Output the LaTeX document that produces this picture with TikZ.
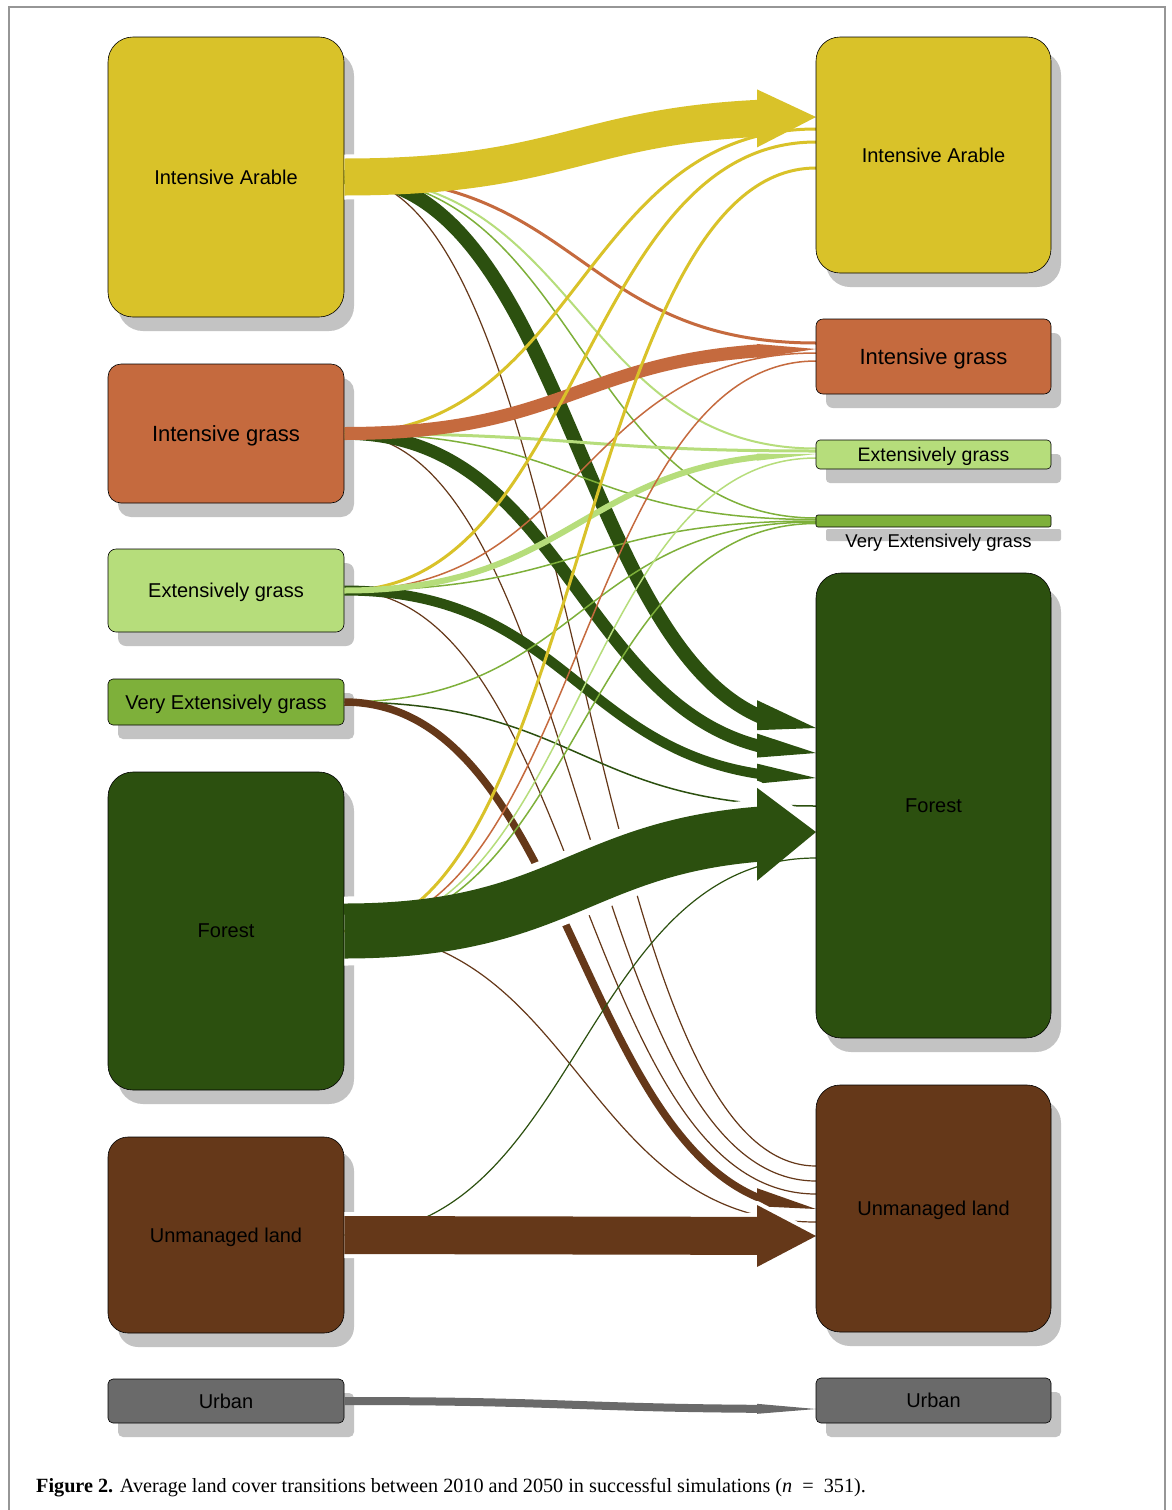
\documentclass[tikz,border=0pt]{standalone}
\usepackage{fontspec}
\setmainfont{Liberation Sans}
\newfontfamily\capfont{Liberation Serif}
\usetikzlibrary{calc,shadows}
\definecolor{cIA}{RGB}{217,194,41}
\definecolor{cIG}{RGB}{197,106,62}
\definecolor{cEG}{RGB}{182,221,123}
\definecolor{cVEG}{RGB}{126,176,58}
\definecolor{cF}{RGB}{44,80,15}
\definecolor{cUL}{RGB}{101,56,25}
\definecolor{cUR}{RGB}{106,106,106}
\definecolor{cSh}{RGB}{195,195,195}
\definecolor{cFrame}{RGB}{150,150,150}

% thin flow: colour, width, source node, target coordinate
\newcommand\flowln[4]{%
  \draw[#1, line width=#2pt] let \p1=(#3.east), \p2=(#4) in
    (\p1) .. controls ({0.5*\x1+0.5*\x2},\y1) and ({0.5*\x1+0.5*\x2},\y2) .. (\p2);}
% flow with arrow head: colour, width, source, target, half head height
\newcommand\flowar[5]{%
  \begin{scope}
    \clip (0,0) rectangle (757.5,1510);
    \flowln{#1}{#2}{#3}{#4}
  \end{scope}
  \fill[#1] let \p1=(#3.east), \p2=(#4) in
    ({\x2-59pt},{\y2-0.0233*(\y2-\y1)+#5pt}) -- (\p2) --
    ({\x2-59pt},{\y2-0.0233*(\y2-\y1)-#5pt}) -- cycle;}
% white halo: total width, source, target, half head, 2*halo
\newcommand\flowhalo[5]{%
  \begin{scope}
    \clip (0,0) rectangle (757.5,1510);
    \flowln{white}{#1}{#2}{#3}
  \end{scope}
  \filldraw[white, line width=#5pt, line join=round] let \p1=(#2.east), \p2=(#3) in
    ({\x2-59pt},{\y2-0.0233*(\y2-\y1)+#4pt}) -- (\p2) --
    ({\x2-59pt},{\y2-0.0233*(\y2-\y1)-#4pt}) -- cycle;}

\begin{document}
\begin{tikzpicture}[x=1pt,y=-1pt,
  lcbox/.style={draw=black, line width=0.6pt, inner sep=0pt, text=black, text depth=0pt,
    font=\fontsize{20}{24}\selectfont,
    drop shadow={shadow xshift=10pt, shadow yshift=-14pt, fill=cSh, opacity=1}},
  lbox/.style={lcbox, minimum width=236pt},
  rbox/.style={lcbox, minimum width=235pt}]
\useasboundingbox (0,0) rectangle (1171,1510);
\fill[white] (0,0) rectangle (1171,1510);
\draw[cFrame, line width=1.5pt] (9,1510) -- (9,7) -- (1165,7) -- (1165,1510);

% ---------- left boxes (2010) ----------
\node[lbox, fill=cIA, minimum height=280pt, rounded corners=25pt] (lIA) at (226,177) {Intensive Arable};
\node[lbox, fill=cIG, minimum height=139pt, rounded corners=13pt, font=\fontsize{22}{26}\selectfont] (lIG) at (226,433.5) {Intensive grass};
\node[lbox, fill=cEG, minimum height=83pt, rounded corners=8pt] (lEG) at (226,590.5) {Extensively grass};
\node[lbox, fill=cVEG, minimum height=46pt, rounded corners=5pt] (lVEG) at (226,702) {Very Extensively grass};
\node[lbox, fill=cF, minimum height=318pt, rounded corners=25pt] (lF) at (226,931) {Forest};
\node[lbox, fill=cUL, minimum height=196pt, rounded corners=20pt] (lUL) at (226,1235) {Unmanaged land};
\node[lbox, fill=cUR, minimum height=44pt, rounded corners=5pt] (lUR) at (226,1401) {Urban};

% ---------- arrival points (2050) ----------
\coordinate (tIA-IA) at (816,117);
\coordinate (tIG-IA) at (816,129);
\coordinate (tEG-IA) at (816,142);
\coordinate (tF-IA) at (816,168);
\coordinate (tIA-IG) at (816,343);
\coordinate (tIG-IG) at (816,349);
\coordinate (tEG-IG) at (816,353);
\coordinate (tF-IG) at (816,361);
\coordinate (tIA-EG) at (816,448.5);
\coordinate (tIG-EG) at (816,451);
\coordinate (tEG-EG) at (816,454);
\coordinate (tF-EG) at (816,458);
\coordinate (tIA-VEG) at (816,518);
\coordinate (tIG-VEG) at (816,519.5);
\coordinate (tEG-VEG) at (816,521);
\coordinate (tVEG-VEG) at (816,522);
\coordinate (tF-VEG) at (816,523.5);
\coordinate (tIA-F) at (816,728);
\coordinate (tIG-F) at (816,753);
\coordinate (tEG-F) at (816,778);
\coordinate (tVEG-F) at (816,806);
\coordinate (tF-F) at (816,832);
\coordinate (tUL-F) at (816,858);
\coordinate (tIA-UL) at (816,1166);
\coordinate (tIG-UL) at (816,1181);
\coordinate (tEG-UL) at (816,1194);
\coordinate (tVEG-UL) at (816,1209);
\coordinate (tF-UL) at (816,1222);
\coordinate (tUL-UL) at (816,1236);
\coordinate (tUR-UR) at (816,1409);

% ---------- flows from Intensive Arable ----------
\flowhalo{45}{lIA}{tIA-IA}{29}{8}
\flowln{cIG}{3}{lIA}{tIA-IG}
\flowln{cEG}{2}{lIA}{tIA-EG}
\flowln{cVEG}{1.5}{lIA}{tIA-VEG}
\flowln{cUL}{1.2}{lIA}{tIA-UL}
\flowar{cF}{14}{lIA}{tIA-F}{15}
\flowar{cIA}{37}{lIA}{tIA-IA}{29}
% ---------- from Intensive grass ----------
\flowln{cIA}{3}{lIG}{tIG-IA}
\flowln{cEG}{3}{lIG}{tIG-EG}
\flowln{cVEG}{1.5}{lIG}{tIG-VEG}
\flowln{cUL}{1.2}{lIG}{tIG-UL}
\flowar{cF}{12.5}{lIG}{tIG-F}{12}
\flowar{cIG}{13}{lIG}{tIG-IG}{7}
% ---------- from Extensively grass ----------
\flowln{cIA}{3}{lEG}{tEG-IA}
\flowln{cIG}{1.5}{lEG}{tEG-IG}
\flowln{cVEG}{1.5}{lEG}{tEG-VEG}
\flowln{cUL}{1.2}{lEG}{tEG-UL}
\flowar{cF}{10}{lEG}{tEG-F}{10}
\flowar{cEG}{6}{lEG}{tEG-EG}{3.5}
% ---------- from Very Extensively grass ----------
\flowln{cVEG}{1.5}{lVEG}{tVEG-VEG}
\flowln{cF}{1.5}{lVEG}{tVEG-F}
\flowar{cUL}{7.5}{lVEG}{tVEG-UL}{9}
% ---------- from Forest ----------
\flowhalo{69}{lF}{tF-F}{46.5}{14}
\flowln{cIA}{3}{lF}{tF-IA}
\flowln{cIG}{1.5}{lF}{tF-IG}
\flowln{cEG}{1.5}{lF}{tF-EG}
\flowln{cVEG}{1.5}{lF}{tF-VEG}
\flowln{cUL}{1.2}{lF}{tF-UL}
\flowar{cF}{55}{lF}{tF-F}{46.5}
% ---------- from Unmanaged land ----------
\flowhalo{46}{lUL}{tUL-UL}{31}{8}
\flowln{cF}{1.2}{lUL}{tUL-F}
\flowar{cUL}{38}{lUL}{tUL-UL}{31}
% ---------- from Urban ----------
\flowar{cUR}{8}{lUR}{tUR-UR}{5}

% ---------- right boxes (2050) ----------
\node[rbox, fill=cIA, minimum height=236pt, rounded corners=24pt] (rIA) at (933.5,155) {Intensive Arable};
\node[rbox, fill=cIG, minimum height=75pt, rounded corners=7pt, font=\fontsize{22}{26}\selectfont] (rIG) at (933.5,356.5) {Intensive grass};
\node[rbox, fill=cEG, minimum height=29pt, rounded corners=4pt, font=\fontsize{19.5}{22}\selectfont] (rEG) at (933.5,454.5) {Extensively grass};
\node[rbox, fill=cVEG, minimum height=12pt, rounded corners=2pt] (rVEG) at (933.5,521) {};
\node[inner sep=0pt, text depth=0pt, font=\fontsize{18.5}{22}\selectfont] (rVEGlab) at (938.5,541) {Very Extensively grass};
\node[rbox, fill=cF, minimum height=465pt, rounded corners=25pt] (rF) at (933.5,805.5) {Forest};
\node[rbox, fill=cUL, minimum height=247pt, rounded corners=24pt] (rUL) at (933.5,1208.5) {Unmanaged land};
\node[rbox, fill=cUR, minimum height=45pt, rounded corners=5pt] (rUR) at (933.5,1400.5) {Urban};

% ---------- caption ----------
\node[anchor=base west, inner sep=0pt, font=\capfont\fontsize{20.2}{24}\selectfont] (cap) at (36,1492)
  {\textbf{Figure 2.} Average land cover transitions between 2010 and 2050 in successful simulations (\textit{n}\enspace=\enspace351).};
\end{tikzpicture}
\end{document}
